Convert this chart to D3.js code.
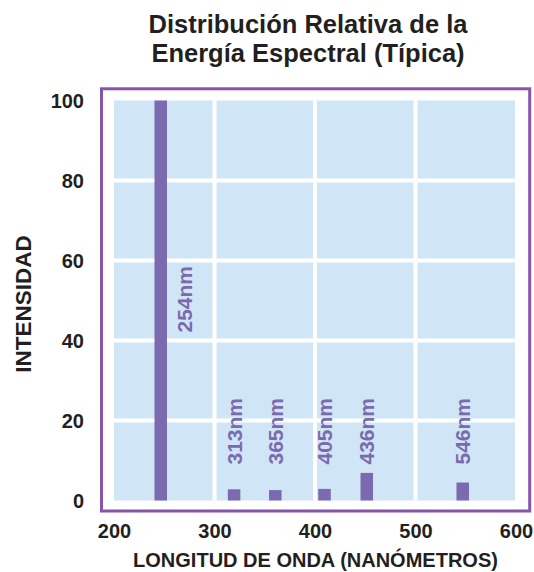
<!DOCTYPE html>
<html>
<head>
<meta charset="utf-8">
<script src="https://cdn.jsdelivr.net/npm/d3@7"></script>
<style>
  body { margin: 0; background: #fff; }
  text { font-family: "Liberation Sans", Arial, Helvetica, sans-serif; font-weight: bold; }
</style>
</head>
<body>
<div id="chart"></div>
<script>
// spectral lines (label, plotted position in nm as drawn, relative intensity)
const lineLabels = ['254nm', '313nm', '365nm', '405nm', '436nm', '546nm'];
const linePositions = [246.5, 319.5, 360.5, 409.5, 451.5, 547];
const intensities = [100, 2.8, 2.6, 2.9, 6.9, 4.5];
const xTicks = [200, 300, 400, 500, 600];
const yTicks = [0, 20, 40, 60, 80, 100];

const WIDTH = 534;
const HEIGHT = 572;
const BAR_COLOR = '#7c6ab0';
const BORDER_COLOR = '#8654a8';
const PANEL_COLOR = '#d0e6f6';
const BAR_WIDTH = 12.5;

const svg = d3.select('#chart')
  .append('svg')
    .attr('width', WIDTH)
    .attr('height', HEIGHT);

const x = d3.scaleLinear()
  .domain([200, 600])
  .range([114, 516]);

const y = d3.scaleLinear()
  .domain([0, 100])
  .range([500.5, 100.5]);

// title
svg.append('text')
  .attr('x', 308)
  .attr('y', 33)
  .attr('text-anchor', 'middle')
  .attr('font-size', 25.5)
  .attr('fill', '#231f20')
  .text('Distribución Relativa de la');
svg.append('text')
  .attr('x', 308)
  .attr('y', 62)
  .attr('text-anchor', 'middle')
  .attr('font-size', 25.5)
  .attr('fill', '#231f20')
  .text('Energía Espectral (Típica)');

// panel
svg.append('rect')
  .attr('x', x(200))
  .attr('y', y(100))
  .attr('width', x(600) - x(200) - 1)
  .attr('height', y(0) - y(100))
  .attr('fill', PANEL_COLOR);

// white grid
svg.append('g')
  .selectAll('line')
  .data(xTicks.slice(1, -1))
  .enter()
  .append('line')
    .attr('x1', d => x(d))
    .attr('x2', d => x(d))
    .attr('y1', y(100))
    .attr('y2', y(0))
    .attr('stroke', '#fff')
    .attr('stroke-width', 4);

svg.append('g')
  .selectAll('line')
  .data(yTicks.slice(1, -1))
  .enter()
  .append('line')
    .attr('x1', x(200))
    .attr('x2', x(600))
    .attr('y1', d => y(d))
    .attr('y2', d => y(d))
    .attr('stroke', '#fff')
    .attr('stroke-width', 4);

// bars
const lines = lineLabels.map((label, i) => ({
  label: label,
  pos: linePositions[i],
  value: intensities[i]
}));

svg.append('g')
  .selectAll('rect')
  .data(lines)
  .enter()
  .append('rect')
    .attr('x', d => x(d.pos) - BAR_WIDTH / 2)
    .attr('y', d => y(d.value))
    .attr('width', BAR_WIDTH)
    .attr('height', d => y(0) - y(d.value))
    .attr('fill', BAR_COLOR);

// rotated line labels
svg.append('g')
  .selectAll('text')
  .data(lines)
  .enter()
  .append('text')
    .attr('transform', d => {
      const tall = d.value > 50;
      const cx = x(d.pos) + (tall ? 24 : 0) + 7.5;
      const cy = tall ? y(42) : y(9);
      return `translate(${cx}, ${cy}) rotate(-90)`;
    })
    .attr('font-size', 21)
    .attr('fill', BAR_COLOR)
    .text(d => d.label);

// frame
svg.append('rect')
  .attr('x', 101.5)
  .attr('y', 88.8)
  .attr('width', 428.2)
  .attr('height', 422.2)
  .attr('fill', 'none')
  .attr('stroke', BORDER_COLOR)
  .attr('stroke-width', 3);

// axes (tick text only)
const xAxis = svg.append('g')
  .attr('transform', `translate(0, 538)`)
  .call(d3.axisBottom(x).tickValues(xTicks).tickSize(0).tickPadding(0));
xAxis.select('.domain').remove();
xAxis.selectAll('text')
  .attr('dy', 0)
  .attr('font-size', 20)
  .attr('font-family', null)
  .attr('fill', '#231f20');

const yAxis = svg.append('g')
  .attr('transform', `translate(84, 0)`)
  .call(d3.axisLeft(y).tickValues(yTicks).tickSize(0).tickPadding(0));
yAxis.select('.domain').remove();
yAxis.selectAll('text')
  .attr('dy', '0.36em')
  .attr('font-size', 20)
  .attr('font-family', null)
  .attr('fill', '#231f20');

// axis titles
svg.append('text')
  .attr('x', 315.5)
  .attr('y', 567)
  .attr('text-anchor', 'middle')
  .attr('font-size', 20)
  .attr('fill', '#231f20')
  .text('LONGITUD DE ONDA (NANÓMETROS)');

svg.append('text')
  .attr('transform', 'translate(30.5, 304) rotate(-90)')
  .attr('text-anchor', 'middle')
  .attr('font-size', 22.5)
  .attr('fill', '#231f20')
  .text('INTENSIDAD');
</script>
</body>
</html>
